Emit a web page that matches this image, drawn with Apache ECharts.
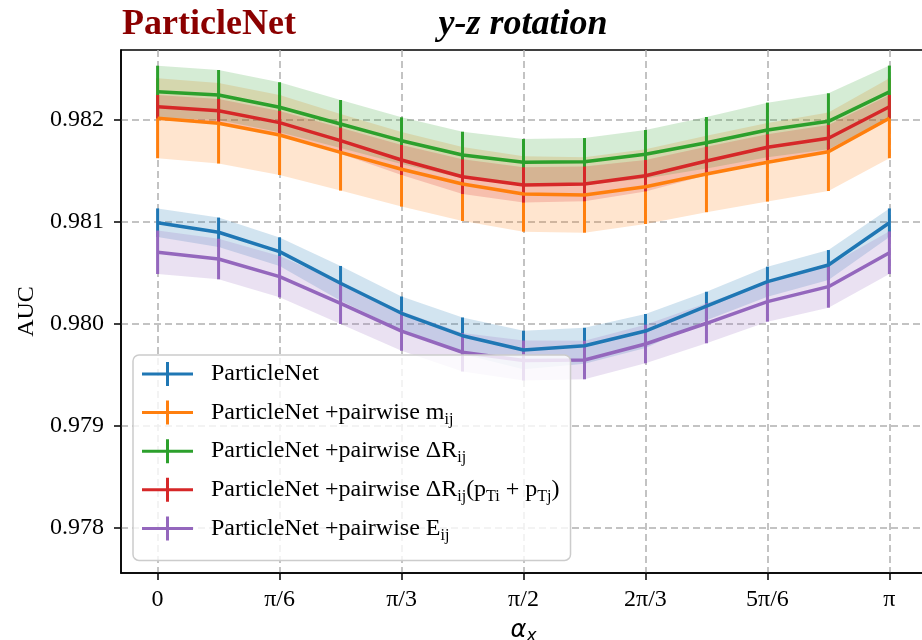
<!DOCTYPE html>
<html><head><meta charset="utf-8">
<script src="https://cdn.jsdelivr.net/npm/echarts@6/dist/echarts.min.js"></script>
<style>html,body{margin:0;padding:0;background:#fff}#c{width:922px;height:640px}</style>
</head><body><div id="c"></div>
<script>
// alpha_x positions in units of pi/12
const alphaSteps = [0,1,2,3,4,5,6,7,8,9,10,11,12];
const xTickValues = [0,2,4,6,8,10,12];
const xTickLabels = ['0','π/6','π/3','π/2','2π/3','5π/6','π'];
const yTickValues = [0.978,0.979,0.980,0.981,0.982];

const seriesNames = [
  'ParticleNet',
  'ParticleNet +pairwise m_ij',
  'ParticleNet +pairwise ΔR_ij',
  'ParticleNet +pairwise ΔR_ij(p_Ti + p_Tj)',
  'ParticleNet +pairwise E_ij'
];
const legendLabels = [
  'ParticleNet',
  'ParticleNet +pairwise m{s|ij}',
  'ParticleNet +pairwise ΔR{s|ij}',
  'ParticleNet +pairwise ΔR{s|ij}(p{s|Ti} + p{s|Tj})',
  'ParticleNet +pairwise E{s|ij}'
];
const colors = ['#1f77b4','#ff7f0e','#2ca02c','#d62728','#9467bd'];

const aucParticleNet = [0.980993,0.980899,0.980709,0.980399,0.980105,0.979885,0.979745,0.979787,0.979931,0.980176,0.980415,0.980578,0.980993];
const errParticleNet = [0.000140,0.000144,0.000140,0.000170,0.000164,0.000179,0.000189,0.000176,0.000167,0.000140,0.000147,0.000147,0.000140];
const aucMij = [0.982017,0.981968,0.981853,0.981683,0.981517,0.981373,0.981275,0.981265,0.981346,0.981471,0.981585,0.981689,0.982017];
const errMij = [0.000392,0.000395,0.000392,0.000375,0.000366,0.000363,0.000370,0.000370,0.000366,0.000375,0.000385,0.000385,0.000392];
const aucDRij = [0.982277,0.982245,0.982125,0.981961,0.981797,0.981657,0.981585,0.981591,0.981664,0.981777,0.981902,0.981987,0.982275];
const errDRij = [0.000255,0.000245,0.000245,0.000235,0.000229,0.000228,0.000228,0.000232,0.000238,0.000252,0.000268,0.000275,0.000258];
const aucDRpt = [0.982130,0.982091,0.981974,0.981797,0.981608,0.981444,0.981363,0.981373,0.981454,0.981598,0.981732,0.981821,0.982130];
const errDRpt = [0.000115,0.000115,0.000115,0.000127,0.000147,0.000170,0.000173,0.000170,0.000154,0.000140,0.000127,0.000130,0.000115];
const aucEij = [0.980703,0.980637,0.980464,0.980203,0.979931,0.979723,0.979642,0.979647,0.979804,0.980007,0.980219,0.980366,0.980699];
const errEij = [0.000213,0.000199,0.000203,0.000203,0.000193,0.000189,0.000196,0.000189,0.000189,0.000196,0.000196,0.000206,0.000209];

const means = [aucParticleNet, aucMij, aucDRij, aucDRpt, aucEij];
const errs = [errParticleNet, errMij, errDRij, errDRpt, errEij];

const serif = '"Liberation Serif", "Times New Roman", serif';

function bandSeries(k) {
  const mean = means[k], err = errs[k];
  return {
    type: 'custom', name: 'band' + k, silent: true, z: 1, animation: false,
    data: alphaSteps.map((x, i) => [x, mean[i]]),
    encode: {x: 0, y: 1},
    renderItem: (params, api) => {
      if (params.dataIndex !== 0) return null;
      const pts = [];
      for (let i = 0; i < alphaSteps.length; i++) pts.push(api.coord([alphaSteps[i], mean[i] + err[i]]));
      for (let i = alphaSteps.length - 1; i >= 0; i--) pts.push(api.coord([alphaSteps[i], mean[i] - err[i]]));
      return {type: 'polygon', shape: {points: pts}, style: {fill: colors[k], opacity: 0.2}};
    }
  };
}
function errSeries(k) {
  const mean = means[k], err = errs[k];
  return {
    type: 'custom', name: 'err' + k, silent: true, z: 3, animation: false,
    data: alphaSteps.map((x, i) => [x, mean[i] - err[i], mean[i] + err[i]]),
    encode: {x: 0, y: [1, 2]},
    renderItem: (params, api) => {
      const a = api.coord([api.value(0), api.value(1)]);
      const b = api.coord([api.value(0), api.value(2)]);
      return {type: 'line', shape: {x1: a[0], y1: a[1], x2: b[0], y2: b[1]},
        style: {stroke: colors[k], lineWidth: 3}};
    }
  };
}
function lineSeries(k) {
  return {
    type: 'line', name: seriesNames[k], z: 3, animation: false, symbol: 'none',
    data: alphaSteps.map((x, i) => [x, means[k][i]]),
    lineStyle: {color: colors[k], width: 3.5},
    itemStyle: {color: colors[k], borderWidth: 0}
  };
}

const series = [];
for (let k = 0; k < 5; k++) series.push(bandSeries(k));
for (let k = 0; k < 5; k++) { series.push(lineSeries(k)); series.push(errSeries(k)); }

const chart = echarts.init(document.getElementById('c'), null, {renderer: 'canvas'});
chart.setOption({
  animation: false,
  backgroundColor: '#fff',
  grid: {left: 121, top: 50, width: 805, height: 523, show: true, borderColor: '#000', borderWidth: 1.5,
    containLabel: false, outerBoundsMode: 'none'},
  graphic: [
    {type: 'text', x: 122, y: 25, style: {text: 'ParticleNet', fill: '#8b0000',
      font: 'bold 36px "Liberation Serif"', verticalAlign: 'middle', align: 'left'}},
    {type: 'text', x: 523, y: 25, style: {text: 'y-z rotation', fill: '#000',
      font: 'italic bold 36px "Liberation Serif"', verticalAlign: 'middle', align: 'center'}}
  ],
  xAxis: {
    type: 'value', min: -0.6, max: 12.6,
    name: '{a|α}{b|x}', nameLocation: 'middle', nameGap: 29,
    nameTextStyle: {rich: {
      a: {fontFamily: '"DejaVu Sans"', fontStyle: 'italic', fontSize: 24, lineHeight: 28, color: '#000'},
      b: {fontFamily: '"DejaVu Sans"', fontStyle: 'italic', fontSize: 17, lineHeight: 17, padding: [11, 0, 0, 0], color: '#000'}
    }},
    axisLine: {show: true, onZero: false, lineStyle: {color: '#000', width: 1.5}},
    axisTick: {show: true, customValues: xTickValues, length: 7, lineStyle: {color: '#000', width: 1.5}},
    axisLabel: {customValues: xTickValues, margin: 15, color: '#000', fontFamily: serif, fontSize: 24,
      formatter: v => xTickLabels[xTickValues.indexOf(Math.round(v))]},
    splitLine: {show: true, lineStyle: {color: '#b0b0b0', width: 1.5, type: [7, 4]}}
  },
  yAxis: {
    type: 'value', min: 0.977559, max: 0.982686,
    name: 'AUC', nameLocation: 'middle', nameGap: 80, nameRotate: 90,
    nameTextStyle: {fontFamily: serif, fontSize: 24, color: '#000'},
    axisLine: {show: true, onZero: false, lineStyle: {color: '#000', width: 1.5}},
    axisTick: {show: true, customValues: yTickValues, length: 7, lineStyle: {color: '#000', width: 1.5}},
    axisLabel: {customValues: yTickValues, margin: 17, color: '#000', fontFamily: serif, fontSize: 24,
      formatter: v => v.toFixed(3)},
    splitLine: {show: true, lineStyle: {color: '#b0b0b0', width: 1.5, type: [7, 4]}}
  },
  legend: {
    data: seriesNames, orient: 'vertical', left: 133, top: 355,
    padding: [3, 11, 16, 9], itemGap: 6.6, itemWidth: 64, itemHeight: 24,
    icon: 'path://M0,10.5 L51,10.5 L51,13.5 L0,13.5 Z M24,0 L27,0 L27,24 L24,24 Z M64,12 L64,12.01 L63.99,12 Z',
    backgroundColor: 'rgba(255,255,255,0.8)', borderColor: '#cccccc', borderWidth: 1.5, borderRadius: 6,
    itemStyle: {borderWidth: 0},
    selectedMode: false,
    formatter: name => legendLabels[seriesNames.indexOf(name)],
    textStyle: {fontFamily: serif, fontSize: 24, lineHeight: 32, color: '#000',
      rich: {s: {fontFamily: serif, fontSize: 16, lineHeight: 16, padding: [15, 0, 1, 0], color: '#000'}}}
  },
  series: series
});
</script></body></html>
